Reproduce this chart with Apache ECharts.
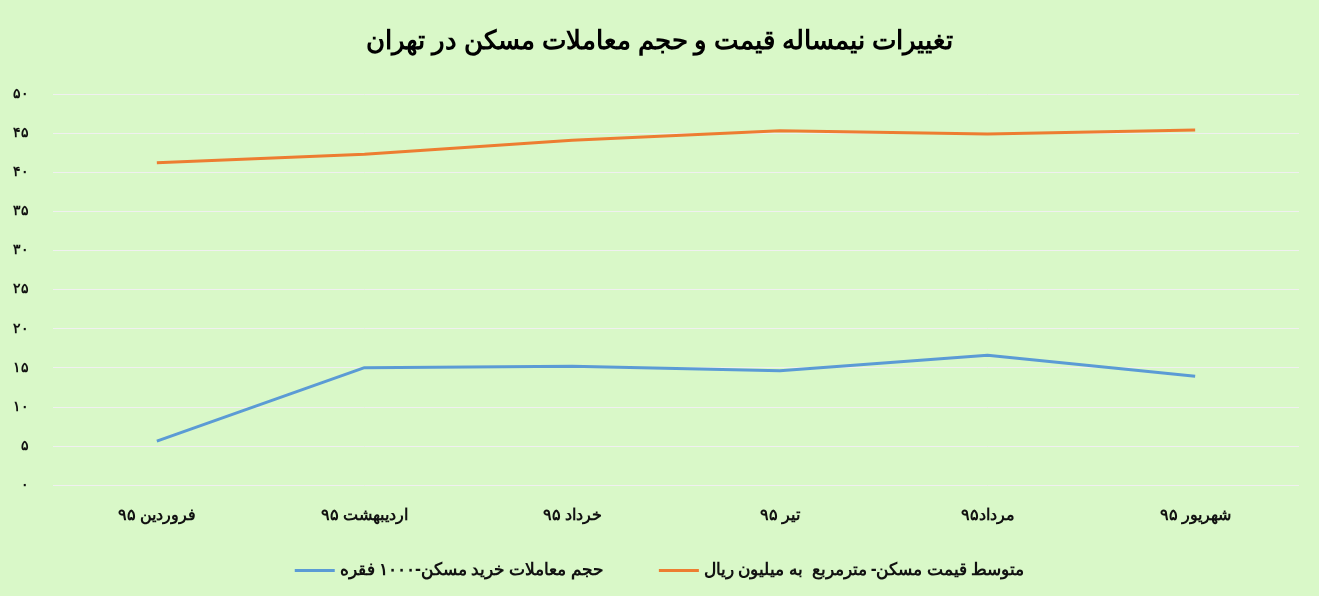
<!DOCTYPE html>
<html><head><meta charset="utf-8">
<script src="https://cdn.jsdelivr.net/npm/echarts@6/dist/echarts.min.js"></script>
<style>html,body{margin:0;padding:0;background:#d9f8c8}#c{width:1319px;height:596px}</style>
</head><body><div id="c"></div>
<script>
const categories=['فروردین ۹۵','اردیبهشت ۹۵','خرداد ۹۵','تیر ۹۵','مرداد۹۵','شهریور ۹۵'];
const volume=[5.6,15.0,15.2,14.6,16.6,13.9];
const price=[41.2,42.3,44.1,45.3,44.9,45.4];
const fa=n=>String(n).replace(/\d/g,d=>'۰۱۲۳۴۵۶۷۸۹'[d]);
const chart=echarts.init(document.getElementById('c'));
chart.setOption({
 backgroundColor:'#d9f8c8',
 title:{text:'تغییرات نیمساله قیمت و حجم معاملات مسکن در تهران',left:'center',top:24,textStyle:{fontFamily:'Noto Sans',fontSize:26,fontWeight:'bold',color:'#000'}},
 grid:{left:53,right:20,top:94,bottom:111},
 xAxis:{type:'category',data:categories,axisLine:{show:false},axisTick:{show:false},
  axisLabel:{margin:22,fontFamily:'Noto Sans',fontSize:16,fontWeight:'bold',color:'#111'}},
 yAxis:{type:'value',min:0,max:50,interval:5,axisLabel:{formatter:v=>fa(v),fontFamily:'Noto Sans',fontSize:14,fontWeight:'bold',color:'#111',margin:24,align:'right'},
  splitLine:{lineStyle:{color:'#f0f0f0',width:1}}},
 legend:{bottom:12,left:'center',itemWidth:40,itemGap:55,icon:'path://M0,0H40V3H0Z',
  textStyle:{fontFamily:'Noto Sans',fontSize:17,fontWeight:'bold',color:'#111'}},
 series:[
  {name:'حجم معاملات خرید مسکن-۱۰۰۰ فقره',type:'line',data:volume,symbol:'none',lineStyle:{color:'#5b9bd5',width:3},itemStyle:{color:'#5b9bd5'}},
  {name:'متوسط قیمت مسکن- مترمربع  به میلیون ریال',type:'line',data:price,symbol:'none',lineStyle:{color:'#ed7d31',width:3},itemStyle:{color:'#ed7d31'}}
 ]
});
</script></body></html>
